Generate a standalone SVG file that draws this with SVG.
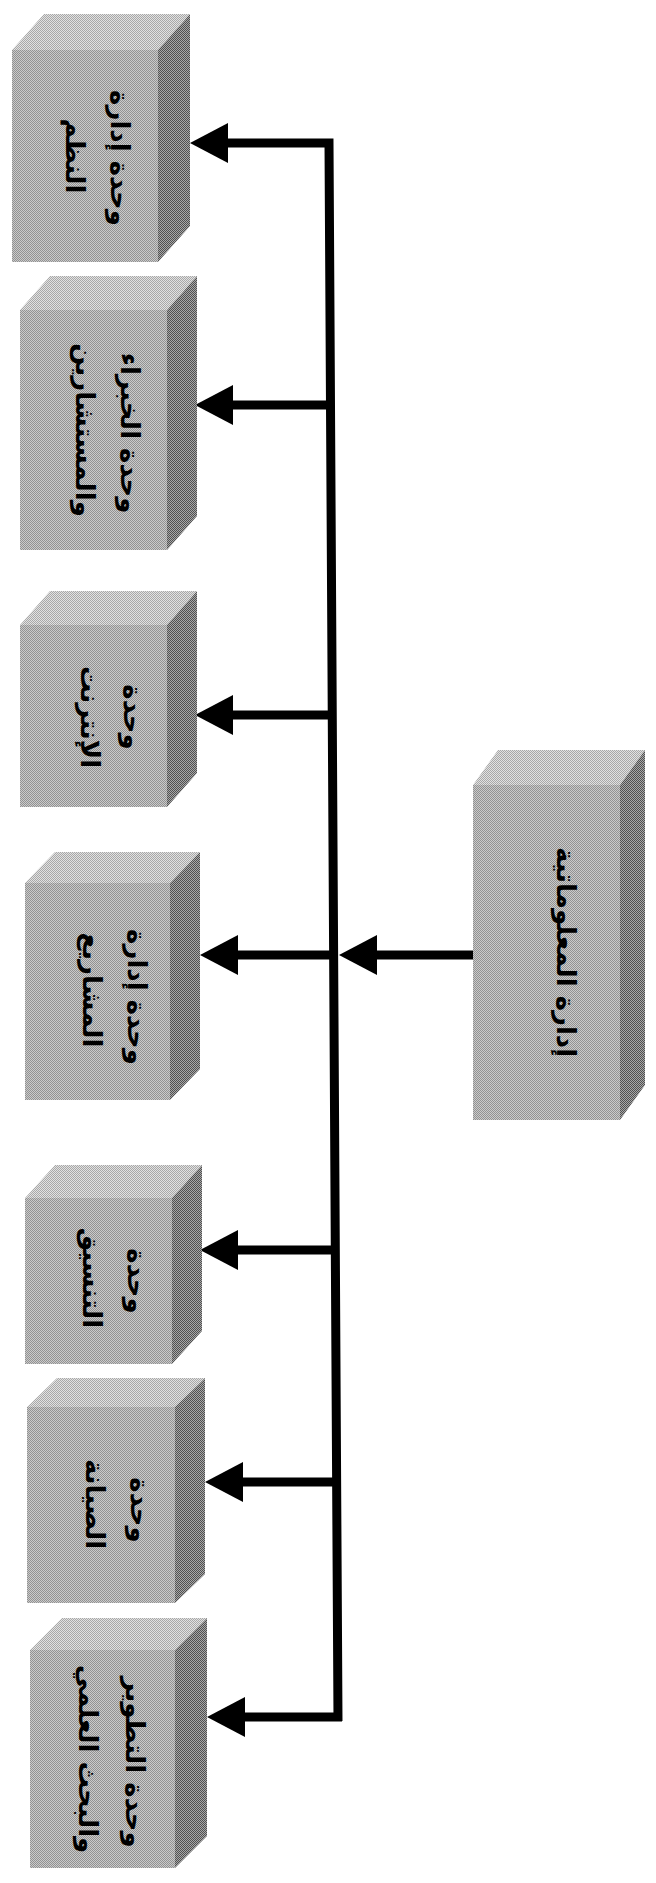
<svg xmlns="http://www.w3.org/2000/svg" width="656" height="1883" viewBox="0 0 656 1883">
<defs>
<pattern id="pf" width="2" height="2" patternUnits="userSpaceOnUse"><rect width="2" height="2" fill="#cacaca"/><rect width="1" height="1" fill="#929292"/><rect x="1" y="1" width="1" height="1" fill="#929292"/></pattern>
<pattern id="pt" width="2" height="2" patternUnits="userSpaceOnUse"><rect width="2" height="2" fill="#e2e2e2"/><rect width="1" height="1" fill="#a8a8a8"/><rect x="1" y="1" width="1" height="1" fill="#a8a8a8"/></pattern>
<pattern id="ps" width="2" height="2" patternUnits="userSpaceOnUse"><rect width="2" height="2" fill="#a8a8a8"/><rect width="1" height="1" fill="#505050"/><rect x="1" y="1" width="1" height="1" fill="#505050"/></pattern>
<marker id="ah" viewBox="0 0 38 40" refX="18" refY="20" markerWidth="38" markerHeight="40" markerUnits="userSpaceOnUse" orient="auto"><path d="M0,0 L38,20 L0,40 Z" fill="#000"/></marker>
</defs>
<style>
.front{fill:url(#pf)}
.top{fill:url(#pt)}
.side{fill:url(#ps)}
.lbl{font-family:"DejaVu Sans",sans-serif;font-weight:bold;font-size:26px;fill:#000;text-anchor:middle;dominant-baseline:central}
.con{fill:none;stroke:#000;stroke-width:9}
</style>
<g id="connectors">
<path class="con" d="M338,1721 L329,143 H210" marker-end="url(#ah)"/>
<line class="con" x1="342" y1="1717" x2="227" y2="1717" marker-end="url(#ah)"/>
<line class="con" x1="331" y1="405" x2="215" y2="405" marker-end="url(#ah)"/>
<line class="con" x1="333" y1="715" x2="215" y2="715" marker-end="url(#ah)"/>
<line class="con" x1="334" y1="955" x2="220" y2="955" marker-end="url(#ah)"/>
<line class="con" x1="336" y1="1250" x2="220" y2="1250" marker-end="url(#ah)"/>
<line class="con" x1="337" y1="1482" x2="225" y2="1482" marker-end="url(#ah)"/>
<line class="con" x1="473" y1="955" x2="359" y2="955" marker-end="url(#ah)"/>
</g>
<g id="n1">
<polygon class="top" points="12,50 44,14 190,14 158,50"/>
<polygon class="side" points="158,50 190,14 190,226 158,262"/>
<rect class="front" x="12" y="50" width="146" height="212"/>
<text class="lbl" transform="translate(120,158) rotate(90)">وحدة إدارة</text>
<text class="lbl" transform="translate(75,156) rotate(90)">النظم</text>
</g>
<g id="n2">
<polygon class="top" points="20,310 50,276 197,276 167,310"/>
<polygon class="side" points="167,310 197,276 197,516 167,550"/>
<rect class="front" x="20" y="310" width="147" height="240"/>
<text class="lbl" transform="translate(130,433) rotate(90)">وحدة الخبراء</text>
<text class="lbl" transform="translate(85,430) rotate(90)">والمستشارين</text>
</g>
<g id="n3">
<polygon class="top" points="20,625 50,591 197,591 167,625"/>
<polygon class="side" points="167,625 197,591 197,773 167,807"/>
<rect class="front" x="20" y="625" width="147" height="182"/>
<text class="lbl" transform="translate(133,717) rotate(90)">وحدة</text>
<text class="lbl" transform="translate(90,717) rotate(90)">الإنترنت</text>
</g>
<g id="n4">
<polygon class="top" points="25,883 55,852 200,852 170,883"/>
<polygon class="side" points="170,883 200,852 200,1069 170,1100"/>
<rect class="front" x="25" y="883" width="145" height="217"/>
<text class="lbl" transform="translate(137,997) rotate(90)">وحدة إدارة</text>
<text class="lbl" transform="translate(92,990) rotate(90)">المشاريع</text>
</g>
<g id="n5">
<polygon class="top" points="25,1198 55,1165 202,1165 172,1198"/>
<polygon class="side" points="172,1198 202,1165 202,1331 172,1364"/>
<rect class="front" x="25" y="1198" width="147" height="166"/>
<text class="lbl" transform="translate(137,1281) rotate(90)">وحدة</text>
<text class="lbl" transform="translate(92,1278) rotate(90)">التنسيق</text>
</g>
<g id="n6">
<polygon class="top" points="27,1407 57,1378 205,1378 175,1407"/>
<polygon class="side" points="175,1407 205,1378 205,1574 175,1603"/>
<rect class="front" x="27" y="1407" width="148" height="196"/>
<text class="lbl" transform="translate(140,1510) rotate(90)">وحدة</text>
<text class="lbl" transform="translate(95,1504) rotate(90)">الصيانة</text>
</g>
<g id="n7">
<polygon class="top" points="30,1650 62,1618 207,1618 175,1650"/>
<polygon class="side" points="175,1650 207,1618 207,1836 175,1868"/>
<rect class="front" x="30" y="1650" width="145" height="218"/>
<text class="lbl" transform="translate(135,1762) rotate(90)">وحدة التطوير</text>
<text class="lbl" transform="translate(88,1759) rotate(90)">والبحث العلمي</text>
</g>
<g id="n8">
<polygon class="top" points="473,785 498,750 645,750 620,785"/>
<polygon class="side" points="620,785 645,750 645,1085 620,1120"/>
<rect class="front" x="473" y="785" width="147" height="335"/>
<text class="lbl" transform="translate(566,952) rotate(90)">إدارة المعلوماتية</text>
</g>
</svg>
